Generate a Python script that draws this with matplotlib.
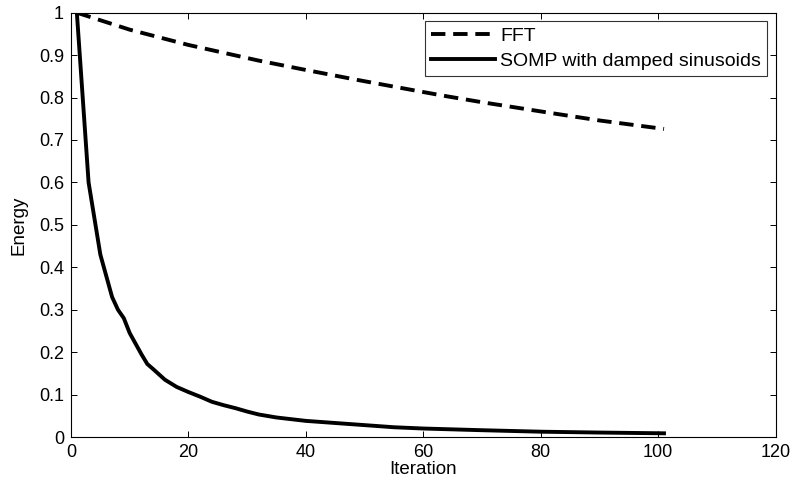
import numpy as np
import matplotlib
matplotlib.use("Agg")
import matplotlib.pyplot as plt

# values
fft_iter = [1, 10, 20, 32, 40, 49, 60, 64, 70, 82, 90, 101]
fft_energy = [1.0, 0.960, 0.924, 0.887, 0.865, 0.841, 0.813, 0.803, 0.789, 0.763, 0.746, 0.726]

somp_iter = [1, 3, 5, 7, 8, 9, 10, 12, 13, 14, 16, 18, 20, 22, 24, 26, 28, 30,
             32, 35, 40, 45, 50, 55, 60, 70, 80, 90, 101]
somp_energy = [1.0, 0.60, 0.43, 0.33, 0.30, 0.28, 0.245, 0.195, 0.172, 0.160, 0.135,
               0.118, 0.106, 0.095, 0.083, 0.075, 0.068, 0.060, 0.053, 0.046, 0.038,
               0.033, 0.028, 0.023, 0.020, 0.016, 0.0125, 0.0105, 0.0087]

xticks = [0, 20, 40, 60, 80, 100, 120]
yticks = [0, 0.1, 0.2, 0.3, 0.4, 0.5, 0.6, 0.7, 0.8, 0.9, 1]

plt.rcParams['font.family'] = ['Liberation Sans', 'DejaVu Sans']

fig = plt.figure(figsize=(7.93, 4.88), dpi=100)
ax = fig.add_axes([0.0895, 0.1045, 0.8885, 0.8695])

ax.plot(fft_iter, fft_energy, color='black', lw=2.8, linestyle=(0, (3.7, 2.0)), label='FFT')
ax.plot(somp_iter, somp_energy, color='black', lw=2.8, label='SOMP with damped sinusoids')

ax.set_xlim(0, 120)
ax.set_ylim(0, 1)
ax.set_xticks(xticks)
ax.set_yticks(yticks)
ax.set_xticklabels([str(t) for t in xticks])
ax.set_yticklabels(["%g" % t for t in yticks])
ax.tick_params(direction='in', top=True, right=True, length=4, width=0.7,
               labelsize=13, pad=5)
for s in ax.spines.values():
    s.set_linewidth(0.8)

ax.set_xlabel("Iteration", fontsize=13.5, labelpad=0)
ax.set_ylabel("Energy", fontsize=13.5, labelpad=8)

leg = ax.legend(loc='upper right', fontsize=14, frameon=True, fancybox=False,
                edgecolor='black', borderpad=0.3, handlelength=3.3, labelspacing=0.4,
                handletextpad=0.25, borderaxespad=0.45)
leg.get_frame().set_linewidth(0.8)

plt.savefig("out.png", dpi=100)
